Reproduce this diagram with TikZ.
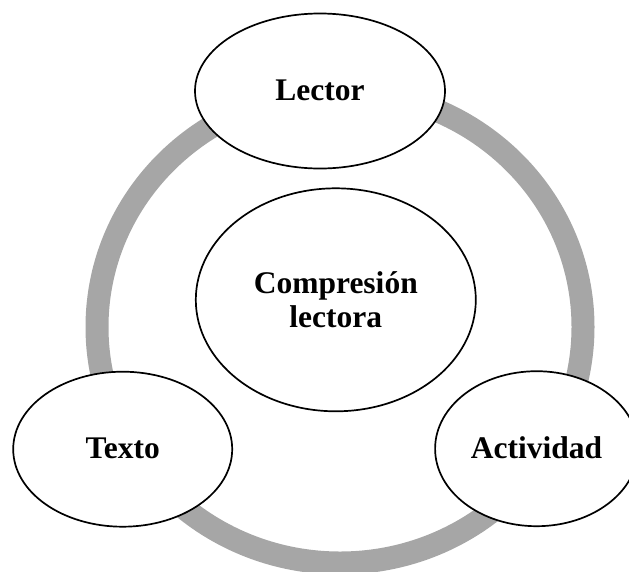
\documentclass[tikz,border=0pt]{standalone}
\usepackage{fontspec}
\setmainfont{Liberation Serif}
\usetikzlibrary{shapes.geometric}
\definecolor{ringgray}{RGB}{166,166,166}
\begin{document}
\begin{tikzpicture}[x=1pt,y=-1pt,
  bubble/.style={ellipse, draw=black, line width=1.7pt, fill=white, inner sep=0pt,
    font=\fontsize{31.5}{34}\selectfont\bfseries, align=center},
  oneline/.style={text height=21pt, text depth=2pt},
  ring/.style={draw=ringgray, line width=23pt}]
\useasboundingbox (0,0) rectangle (629,571);
\clip (0,0) rectangle (629,571);
\coordinate (ringc) at (340,327);
\draw[ring] (ringc) ellipse [x radius=243pt, y radius=236pt];
\node[bubble, oneline, minimum width=250pt, minimum height=155pt] (lector) at (320,91) {Lector};
\node[bubble, minimum width=280pt, minimum height=223pt] (comp) at (335.8,299.8) {Compresión\\lectora};
\node[bubble, oneline, minimum width=219pt, minimum height=155pt] (texto) at (122.7,449.2) {Texto};
\node[bubble, oneline, minimum width=203pt, minimum height=155pt] (activ) at (536.6,448.7) {Actividad};
\end{tikzpicture}
\end{document}
